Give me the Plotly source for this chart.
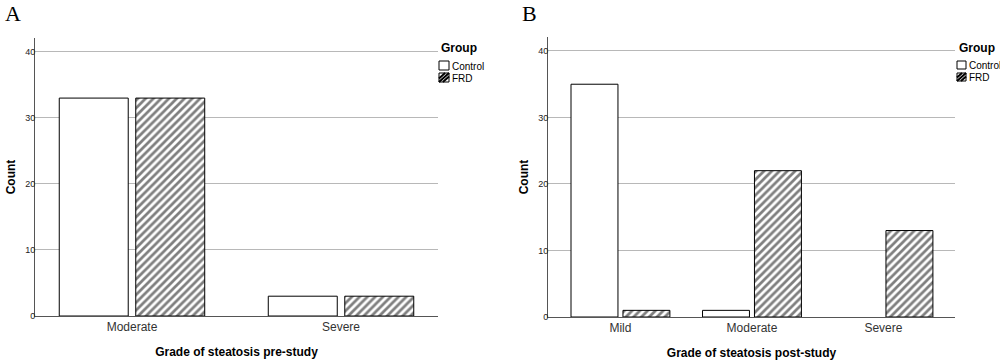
import plotly.graph_objects as go

# Panel A data
cats_a = ["Moderate", "Severe"]
control_a = [33, 3]
frd_a = [33, 3]

# Panel B data
cats_b = ["Mild", "Moderate", "Severe"]
control_b = [35, 1, 0]
frd_b = [1, 22, 13]

y_ticks = [0, 10, 20, 30, 40]
group_names = ["Control", "FRD"]

W, H = 1000, 360
FONT = "Liberation Sans, Arial, sans-serif"
fig = go.Figure()

HATCH = dict(shape="/", fgcolor="black", bgcolor="white", size=5.5, solidity=0.5)


def px(x):
    return x / W


def py(y):
    return 1 - y / H


def outline(vals):
    # no outline drawn for empty (zero-count) bars
    return [1 if v > 0 else 0 for v in vals]


def add_pair(cats, ctrl, frd, xa, ya, width, gap):
    fig.add_trace(go.Bar(
        x=cats, y=ctrl, name=group_names[0], xaxis=xa, yaxis=ya,
        marker=dict(color="white", line=dict(color="black", width=outline(ctrl))),
        width=width, offset=-(width + gap / 2), showlegend=False))
    fig.add_trace(go.Bar(
        x=cats, y=frd, name=group_names[1], xaxis=xa, yaxis=ya,
        marker=dict(color="white", line=dict(color="black", width=outline(frd)),
                    pattern=HATCH),
        width=width, offset=gap / 2, showlegend=False))


add_pair(cats_a, control_a, frd_a, "x", "y", 0.33, 0.036)
add_pair(cats_b, control_b, frd_b, "x2", "y2", 0.357, 0.038)

axis_common = dict(showline=True, linecolor="#555555", linewidth=1, ticks="",
                   showgrid=False, zeroline=False, automargin=False,
                   tickfont=dict(family=FONT, size=12, color="#333333"))
yaxis_common = dict(showline=True, linecolor="#555555", linewidth=1, ticks="",
                    showgrid=True, gridcolor="#b8b8b8", gridwidth=1,
                    zeroline=False, tickvals=y_ticks, automargin=False,
                    ticklabelstandoff=-3,
                    tickfont=dict(family=FONT, size=9, color="#222222"),
                    title=dict(text="<b>Count</b>", font=dict(family=FONT, size=12, color="black"),
                               standoff=6))

shapes = []
annotations = []


def legend_block(x_box, y_title, box):
    annotations.append(dict(text="<b>Group</b>", x=px(x_box + 20), y=py(y_title),
                            xref="paper", yref="paper", xanchor="center", yanchor="middle",
                            showarrow=False, font=dict(family=FONT, size=12, color="black")))
    for i, name in enumerate(group_names):
        y0 = 61 + i * 12
        x0 = x_box
        shapes.append(dict(type="rect", xref="paper", yref="paper",
                           x0=px(x0), x1=px(x0 + box), y0=py(y0), y1=py(y0 + box - 1),
                           line=dict(color="black", width=1), fillcolor="white"))
        if i == 1:
            s = box
            h = s - 1
            for c in (-3.5, 0, 3.5):
                pts = []
                for u in (0, s):
                    v = h - u * h / s + c
                    if 0 <= v <= h:
                        pts.append((u, v))
                for v in (0, h):
                    u = (h - v + c) * s / h
                    if 0 <= u <= s:
                        pts.append((u, v))
                pts = sorted(set(pts))
                if len(pts) >= 2:
                    (u0, v0), (u1, v1) = pts[0], pts[-1]
                    shapes.append(dict(type="line", xref="paper", yref="paper",
                                       x0=px(x0 + u0), y0=py(y0 + v0),
                                       x1=px(x0 + u1), y1=py(y0 + v1),
                                       line=dict(color="black", width=2)))
        annotations.append(dict(text=name, x=px(x0 + box + 1), y=py(y0 + box / 2),
                                xref="paper", yref="paper", xanchor="left", yanchor="middle",
                                showarrow=False, font=dict(family=FONT, size=10, color="black")))


legend_block(439, 48, 10)
legend_block(957, 48, 9)

annotations.append(dict(text="A", x=px(13), y=py(14), xref="paper", yref="paper",
                        xanchor="center", yanchor="middle", showarrow=False,
                        font=dict(family="Liberation Serif, Times New Roman, serif", size=22,
                                  color="black")))
annotations.append(dict(text="B", x=px(529), y=py(14), xref="paper", yref="paper",
                        xanchor="center", yanchor="middle", showarrow=False,
                        font=dict(family="Liberation Serif, Times New Roman, serif", size=22,
                                  color="black")))

fig.update_layout(
    width=W, height=H,
    margin=dict(l=0, r=0, t=0, b=0, autoexpand=False),
    plot_bgcolor="white", paper_bgcolor="white",
    barmode="overlay",
    showlegend=False,
    xaxis=dict(domain=[px(35), px(438)], range=[-0.464, 1.464],
               title=dict(text="<b>Grade of steatosis pre-study</b>",
                          font=dict(family=FONT, size=12, color="black"), standoff=14),
               **axis_common),
    yaxis=dict(domain=[py(316), py(38)], range=[0, 42.1], anchor="x",
               **yaxis_common),
    xaxis2=dict(domain=[px(548), px(955)], range=[-0.551, 2.544], anchor="y2",
                title=dict(text="<b>Grade of steatosis post-study</b>",
                           font=dict(family=FONT, size=12, color="black"), standoff=14),
                **axis_common),
    yaxis2=dict(domain=[py(317), py(37)], range=[0, 42.1], anchor="x2",
                **yaxis_common),
    shapes=shapes,
    annotations=annotations,
)

fig.write_html("out.html",
               config={"displayModeBar": False},
               post_script="document.body.style.margin='0';document.body.style.padding='0';")
